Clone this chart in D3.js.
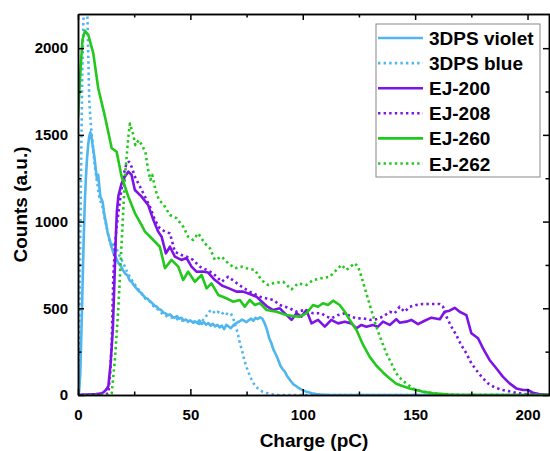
<!DOCTYPE html>
<html>
<head>
<meta charset="utf-8">
<script src="https://cdn.jsdelivr.net/npm/d3@7"></script>
<style>
  body { margin: 0; background: #fff; }
  svg { display: block; font-family: "Liberation Sans", Arial, sans-serif; }
</style>
</head>
<body>
<svg width="550" height="451"></svg>
<script>
// 3DPS violet (solid light blue)
const violetQ = [0,0.5,1,1.5,2,2.5,3,3.5,4,4.5,5,5.5,6,6.5,7,7.5,8,8.5,9,9.5,10,10.5,11,11.5,12,12.5,13,13.5,14,15,16,17,18,19,20,21,22,23,24,25,26,27,28,29,30,31,32,33,34,35,36,37,38,39,40,41,42,43,44,45,46,47,48,49,50,51,52,53,54,55,56,57,58,59,60,61,62,63,64,65,66,67,68,69,70,71,72,73,74,75,76,77,78,79,80,81,82,83,84,85,86,87,88,89,90,91,92,93,94,95,96,97,98,99,100,101,102,103,104,106,108,112,210];
const violetN = [0,20,120,350,620,880,1100,1250,1360,1440,1490,1515,1490,1440,1400,1350,1290,1240,1270,1200,1140,1130,1110,1060,1020,990,950,920,900,850,810,790,760,745,720,700,690,660,650,630,615,600,590,575,560,555,540,530,515,510,495,490,475,470,460,465,450,445,455,440,445,430,435,425,430,420,425,415,430,410,420,405,415,400,410,395,405,390,400,380,405,395,385,400,410,420,425,435,428,420,432,440,428,445,438,448,440,415,380,330,300,260,235,205,170,150,135,110,92,75,60,52,42,34,28,22,18,14,10,6,3,0,0];

// 3DPS blue (dotted light blue)
const blueQ = [0,0.5,1,1.5,2,2.5,3,3.5,4,4.5,5,5.5,6,6.5,7,7.5,8,8.5,9,9.5,10,11,12,13,14,15,16,18,20,22,24,26,28,30,32,34,36,38,40,42,44,46,48,50,52,54,55,56,57,58,59,60,61,62,63,64,65,66,67,68,69,70,71,72,73,74,75,76,77,78,79,80,81,82,84,86,88,210];
const blueN = [0,250,900,1450,1930,2200,2300,2350,2300,2000,1700,1600,1510,1460,1380,1320,1270,1230,1180,1140,1120,1080,1010,950,890,850,880,815,765,705,660,625,590,555,540,505,490,462,452,446,438,430,425,420,415,410,420,440,455,470,490,485,470,480,475,465,480,470,465,470,445,400,360,300,255,200,160,125,95,70,50,38,28,20,12,5,0,0];

// EJ-200 (solid purple)
const ej200Q = [0,2,4,6,8,10,11.3,12.5,13.5,14.5,15.5,16.2,16.8,17.3,18,19.4,20.9,22.4,23.8,25.3,28.3,31.2,33.5,35.7,37.2,39.1,40.9,43.1,46,48.3,50.5,52.7,55.4,57.9,60.9,64.2,67.2,70.5,73.5,76.4,79.4,81.8,83.9,86.8,89.8,92,95,97.2,99.4,101.6,103.9,106.8,109.8,112.7,115.7,118.7,121.6,123.9,126.1,128.3,131.2,133.5,135.7,138.7,141.6,143.1,146,148.3,151.3,154.2,157.2,161,163.1,165.3,167.6,169.8,172.8,175,178,180.2,183.1,186.1,189,192,195,198,200.1,202.4,205,210];
const ej200N = [0,2,3,4,5,8,15,30,50,180,380,650,900,1060,1150,1220,1260,1288,1270,1182,1144,1096,1010,942,913,817,855,798,779,790,740,711,712,706,663,630,615,596,596,582,567,538,513,490,500,471,433,471,452,490,413,433,394,433,413,423,413,385,404,394,404,394,423,404,437,417,423,433,409,428,446,437,480,486,503,480,461,356,327,269,202,154,106,67,38,29,29,13,5,0];

// EJ-208 (dotted purple)
const ej208Q = [0,4,8,12,13.5,14.3,15,15.7,16.5,17.2,18.7,20.1,21.6,22.7,23.8,25.3,27.6,29.8,32,34.2,36.4,38.7,40.9,43.1,46,48.3,51.2,54.2,57.2,60.1,63.9,66.8,69.8,72.8,76.4,79.4,80.9,83.9,86.8,89.8,94.2,97.2,100.9,104.6,108.3,110.5,112.7,115.7,118.7,121.6,123.9,126.8,129.8,132.7,135.7,138.7,140.9,143.1,145.3,147.6,150.5,153.5,157.9,161,162.4,163.9,166.1,168.3,170.5,172.8,175,177.2,179.5,182.4,185.3,189,192.8,196,200,210];
const ej208N = [0,0,0,2,10,120,298,682,870,971,1124,1259,1336,1345,1317,1259,1201,1144,1086,1009,961,942,932,826,807,798,779,740,721,702,653,682,653,625,596,577,567,557,548,519,500,480,490,471,471,452,442,461,471,452,442,442,433,437,452,480,471,509,480,509,519,525,525,525,509,452,394,346,288,240,183,144,106,67,44,29,19,10,3,0];

// EJ-260 (solid green)
const ej260Q = [0,1,2,3.1,4.6,6.8,9,12,15,17.2,19.4,22.4,25.3,28.3,29.8,33.5,36.4,38.7,41.6,44.6,46.8,49,52,55,57.2,59.4,62.4,66,69,72,74.2,76.4,78.7,80.9,83.9,88.3,92.7,95.7,98.7,101.6,104.6,106.8,109,111.2,113.5,116.4,118.7,120.9,123.9,126.8,129.8,132.7,135.7,138.7,141.6,144.6,147.6,150.5,153.5,158,165,170,210];
const ej260N = [1600,1850,2050,2100,2076,1970,1769,1605,1423,1403,1259,1144,1049,980,942,894,855,731,779,740,663,711,653,692,615,644,577,558,538,548,509,548,519,530,490,480,461,455,452,471,519,509,529,519,544,519,480,433,375,290,220,170,130,95,65,50,38,29,19,10,3,0,0];

// EJ-262 (dotted green)
const ej262Q = [0,10,14,15,16.4,17.9,19.4,20.9,22.4,23.1,24.6,25.5,27,28.5,30,31.2,32.2,33,34.5,36,38,40.9,43.9,46.8,49,51.2,53.5,56.4,58.7,60.9,63.9,66.8,69.8,72.8,75,78.7,81.6,84.6,86.8,91.3,95,97.9,101.6,104.6,108.3,112,114.2,117.2,119.4,123.1,124.6,126.1,128.3,130.5,132.7,134.9,137.2,139.4,141.6,143.1,146,149,153.5,161,170,210];
const ej262N = [0,0,0,10,202,490,876,1259,1490,1565,1500,1440,1470,1440,1400,1300,1240,1270,1182,1124,1100,1038,1019,971,913,894,932,875,846,779,798,760,731,740,731,721,663,634,644,653,609,644,634,663,673,682,711,750,721,760,740,682,586,490,394,317,240,183,125,100,67,38,19,5,0,0];

const legendLabels = ["3DPS violet", "3DPS blue", "EJ-200", "EJ-208", "EJ-260", "EJ-262"];
const xTicks = [0, 50, 100, 150, 200];
const yTicks = [0, 500, 1000, 1500, 2000];

const series = [
  { name: legendLabels[0], q: violetQ, n: violetN, color: "#4fb6ef", dotted: false },
  { name: legendLabels[1], q: blueQ, n: blueN, color: "#4fb6ef", dotted: true },
  { name: legendLabels[2], q: ej200Q, n: ej200N, color: "#7d14e6", dotted: false },
  { name: legendLabels[3], q: ej208Q, n: ej208N, color: "#7d14e6", dotted: true },
  { name: legendLabels[4], q: ej260Q, n: ej260N, color: "#22c81c", dotted: false },
  { name: legendLabels[5], q: ej262Q, n: ej262N, color: "#22c81c", dotted: true }
];

const svg = d3.select("svg");
const plotLeft = 78, plotRight = 550, plotTop = 14, plotBottom = 395;

const x = d3.scaleLinear().domain([0, 210]).range([plotLeft, plotRight]);
const y = d3.scaleLinear().domain([0, 2197]).range([plotBottom, plotTop]);

// clip for data
svg.append("clipPath").attr("id", "plotClip")
  .append("rect").attr("x", plotLeft).attr("y", plotTop)
  .attr("width", plotRight - plotLeft).attr("height", plotBottom - plotTop);

const line = d3.line().x(d => x(d[0])).y(d => y(d[1]));

const plot = svg.append("g").attr("clip-path", "url(#plotClip)");
series.forEach(s => {
  plot.append("path")
    .datum(s.q.map((q, i) => [q, s.n[i]]))
    .attr("fill", "none")
    .attr("stroke", s.color)
    .attr("stroke-width", 2.6)
    .attr("stroke-linejoin", "round")
    .attr("stroke-dasharray", s.dotted ? "2.4,3.2" : null)
    .attr("d", line);
});

// axes, ticks pointing inward
const xMinor = d3.range(25, 210, 50);
const yMinor = d3.range(250, 2197, 500);

function styleAxis(g) {
  g.select(".domain").attr("stroke", "#000").attr("stroke-width", 1.5);
  g.selectAll(".tick line").attr("stroke", "#000").attr("stroke-width", 1.5);
  g.selectAll(".tick text").attr("fill", "#000")
    .style("font-size", "15px").style("font-weight", "bold");
}

svg.append("g").attr("transform", `translate(0,${plotBottom})`)
  .call(d3.axisBottom(x).tickValues(xTicks).tickSize(-6).tickPadding(14).tickSizeOuter(0))
  .call(styleAxis);
svg.append("g").attr("transform", `translate(0,${plotBottom})`)
  .call(d3.axisBottom(x).tickValues(xMinor).tickSize(-3.5).tickFormat("").tickSizeOuter(0))
  .call(styleAxis);
svg.append("g").attr("transform", `translate(0,${plotTop})`)
  .call(d3.axisTop(x).tickValues(xTicks).tickSize(-6).tickFormat("").tickSizeOuter(0))
  .call(styleAxis);
svg.append("g").attr("transform", `translate(0,${plotTop})`)
  .call(d3.axisTop(x).tickValues(xMinor).tickSize(-3.5).tickFormat("").tickSizeOuter(0))
  .call(styleAxis);

svg.append("g").attr("transform", `translate(${plotLeft},0)`)
  .call(d3.axisLeft(y).tickValues(yTicks).tickFormat(d3.format("d")).tickSize(-6).tickPadding(10).tickSizeOuter(0))
  .call(styleAxis);
svg.append("g").attr("transform", `translate(${plotLeft},0)`)
  .call(d3.axisLeft(y).tickValues(yMinor).tickSize(-3.5).tickFormat("").tickSizeOuter(0))
  .call(styleAxis);
svg.append("g").attr("transform", `translate(${plotRight - 1},0)`)
  .call(d3.axisRight(y).tickValues(yTicks).tickSize(-6).tickFormat("").tickSizeOuter(0))
  .call(styleAxis);
svg.append("g").attr("transform", `translate(${plotRight - 1},0)`)
  .call(d3.axisRight(y).tickValues(yMinor).tickSize(-3.5).tickFormat("").tickSizeOuter(0))
  .call(styleAxis);

// axis titles
svg.append("text")
  .attr("x", (plotLeft + plotRight) / 2).attr("y", 447)
  .attr("text-anchor", "middle")
  .style("font-size", "19px").style("font-weight", "bold")
  .text("Charge (pC)");

svg.append("text")
  .attr("transform", `translate(27,${(plotTop + plotBottom) / 2}) rotate(-90)`)
  .attr("text-anchor", "middle")
  .style("font-size", "19px").style("font-weight", "bold")
  .text("Counts (a.u.)");

// legend
const legend = svg.append("g").attr("transform", "translate(376,24)");
legend.append("rect")
  .attr("width", 164).attr("height", 153)
  .attr("fill", "#fff").attr("stroke", "#888").attr("stroke-width", 1);

const item = legend.selectAll(".item")
  .data(series)
  .enter()
  .append("g")
  .attr("class", "item")
  .attr("transform", (d, i) => `translate(0,${14 + i * 25.1})`);

item.append("line")
  .attr("x1", 2).attr("x2", 47)
  .attr("stroke", d => d.color)
  .attr("stroke-width", 2.6)
  .attr("stroke-dasharray", d => d.dotted ? "2.4,3.2" : null);

item.append("text")
  .attr("x", 53).attr("y", 7)
  .style("font-size", "19px").style("font-weight", "bold")
  .text(d => d.name);
</script>
</body>
</html>
